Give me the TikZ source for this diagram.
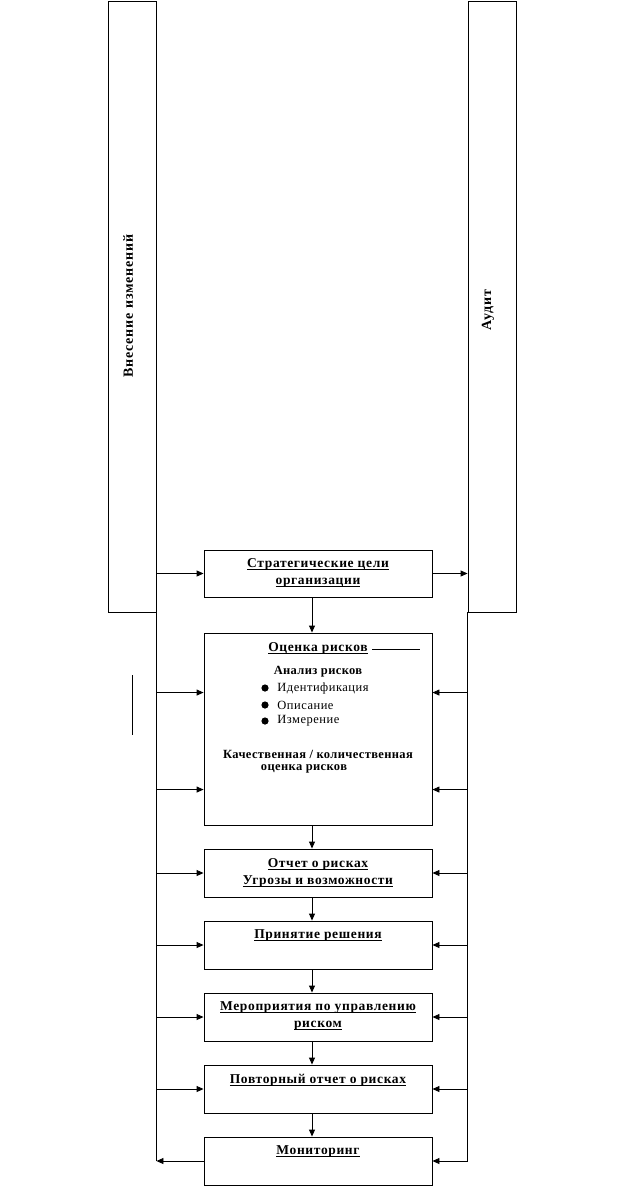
\documentclass[tikz,border=0pt]{standalone}
\usepackage{fontspec}
\setmainfont{Liberation Serif}
\usetikzlibrary{arrows.meta}
\newcommand\myul[1]{\setbox0\hbox{#1}\rlap{\copy0}\rule[-2.2pt]{\wd0}{0.7pt}}
\begin{document}
\begin{tikzpicture}[x=1pt,y=-1pt, line width=0.9pt,
  box/.style={draw, minimum width=228pt, inner sep=0pt},
  tall/.style={draw, minimum width=48pt, minimum height=611pt, inner sep=0pt},
  lbl/.style={font=\fontsize{13.5}{17}\selectfont\bfseries\addfontfeature{LetterSpace=4.8}, align=center, inner sep=0pt},
  vlbl/.style={font=\fontsize{14}{17}\selectfont\bfseries\addfontfeature{LetterSpace=6}, inner sep=0pt, rotate=90},
  sub/.style={font=\fontsize{12.5}{15}\selectfont\bfseries\addfontfeature{LetterSpace=3}, inner sep=0pt},
  plain/.style={font=\fontsize{12.5}{16}\selectfont\addfontfeature{LetterSpace=4}, inner sep=0pt, anchor=west},
  arr/.style={-{Triangle[length=7pt,width=6pt]}},
  flow/.style={arr, transform canvas={xshift=-6pt}}]
\useasboundingbox (0,0) rectangle (637,1190);

% tall side boxes
\node[tall] (L) at (132,306.5) {};
\node[tall] (R) at (492,306.5) {};
\node[vlbl] (Lt) at (128,306) {Внесение изменений};
\node[vlbl] (Rt) at (488,310) {Аудит};

% main boxes
\node[box, minimum height=47pt] (b1) at (318,573.5) {};
\node[box, minimum height=192pt] (b2) at (318,729) {};
\node[box, minimum height=48pt] (b3) at (318,873) {};
\node[box, minimum height=48pt] (b4) at (318,945) {};
\node[box, minimum height=48pt] (b5) at (318,1017) {};
\node[box, minimum height=48pt] (b6) at (318,1089) {};
\node[box, minimum height=48pt] (b7) at (318,1161) {};

% labels
\node[lbl] (t1) at (318,573) {\myul{Стратегические цели}\\\myul{организации}};
\node[lbl] (t2a) at (318,648) {\myul{Оценка рисков}};
\node[sub] (t2b) at (318,672) {Анализ рисков};
\fill (265,688) circle (3.6pt);
\fill (265,705) circle (3.6pt);
\fill (265,721) circle (3.6pt);
\node[plain] (t2c) at (277,688) {Идентификация};
\node[plain] (t2d) at (277,705) {Описание};
\node[plain] (t2e) at (277,721) {Измерение};
\node[sub] (t2f) at (318,754) {Качественная / количественная};
\node[sub] (t2g) at (304,769) {оценка рисков};
\node[lbl] (t3) at (318,872.5) {\myul{Отчет о рисках}\\\myul{Угрозы и возможности}};
\node[lbl] (t4) at (318,936) {\myul{Принятие решения}};
\node[lbl] (t5) at (318,1016.5) {\myul{Мероприятия по управлению}\\\myul{риском}};
\node[lbl] (t6) at (318,1080) {\myul{Повторный отчет о рисках}};
\node[lbl] (t7) at (318,1152) {\myul{Мониторинг}};

% stray marks
\draw (132,675) -- (132,735);
\draw (372,649) -- (420,649);

% trunks
\draw (L.south east) -- (b7.west -| L.east);
\draw (R.south west) -- (b7.east -| R.west);

% box2 side points
\path (b2.north west) ++(0,60) coordinate (b2w1);
\path (b2.north west) ++(0,157) coordinate (b2w2);
\path (b2.north east) ++(0,60) coordinate (b2e1);
\path (b2.north east) ++(0,157) coordinate (b2e2);

% left arrows into boxes
\draw[arr] (L.east |- b1.west) -- (b1.west);
\draw[arr] (L.east |- b2w1) -- (b2w1);
\draw[arr] (L.east |- b2w2) -- (b2w2);
\draw[arr] (L.east |- b3.west) -- (b3.west);
\draw[arr] (L.east |- b4.west) -- (b4.west);
\draw[arr] (L.east |- b5.west) -- (b5.west);
\draw[arr] (L.east |- b6.west) -- (b6.west);
\draw[arr] (b7.west) -- (b7.west -| L.east);

% right arrows
\draw[arr] (b1.east) -- (b1.east -| R.west);
\draw[arr] (R.west |- b2e1) -- (b2e1);
\draw[arr] (R.west |- b2e2) -- (b2e2);
\draw[arr] (R.west |- b3.east) -- (b3.east);
\draw[arr] (R.west |- b4.east) -- (b4.east);
\draw[arr] (R.west |- b5.east) -- (b5.east);
\draw[arr] (R.west |- b6.east) -- (b6.east);
\draw[arr] (R.west |- b7.east) -- (b7.east);

% vertical flow
\draw[flow] (b1.south) -- (b2.north);
\draw[flow] (b2.south) -- (b3.north);
\draw[flow] (b3.south) -- (b4.north);
\draw[flow] (b4.south) -- (b5.north);
\draw[flow] (b5.south) -- (b6.north);
\draw[flow] (b6.south) -- (b7.north);
\end{tikzpicture}
\end{document}
